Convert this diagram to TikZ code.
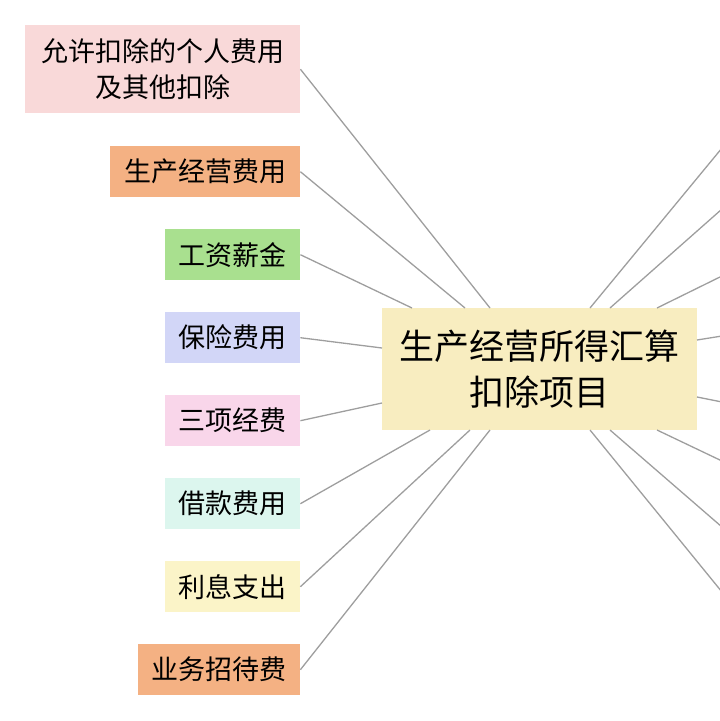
\documentclass[tikz,border=0pt]{standalone}
\usepackage{fontspec}
\setmainfont{Noto Sans CJK SC}
\begin{document}
\begin{tikzpicture}[x=1pt,y=-1pt,
  lbox/.style={anchor=north west,inner sep=0pt,align=center,font=\fontsize{27}{36}\selectfont},
  conn/.style={draw=black!38,line width=1.3pt}]
\useasboundingbox (0,0) rectangle (720,721);
\definecolor{c1}{HTML}{F9D9D9}\definecolor{c2}{HTML}{F4B183}\definecolor{c3}{HTML}{A9E08F}
\definecolor{c4}{HTML}{D2D6F7}\definecolor{c5}{HTML}{F9D6EA}\definecolor{c6}{HTML}{DCF6EE}
\definecolor{c7}{HTML}{FBF4C8}\definecolor{cc}{HTML}{F8EDC0}
\node[fill=cc,minimum width=315pt,minimum height=122pt,inner sep=0pt,align=center,font=\fontsize{35}{46}\selectfont] (c) at (539.5,369) {生产经营所得汇算\\扣除项目};
\node[fill=c1,lbox,minimum width=275pt,minimum height=88pt] (a1) at (25,25) {允许扣除的个人费用\\及其他扣除};
\node[fill=c2,lbox,minimum width=190pt,minimum height=51pt] (a2) at (110,146) {生产经营费用};
\node[fill=c3,lbox,minimum width=135pt,minimum height=51pt] (a3) at (165,229) {工资薪金};
\node[fill=c4,lbox,minimum width=135pt,minimum height=51pt] (a4) at (165,312) {保险费用};
\node[fill=c5,lbox,minimum width=135pt,minimum height=51pt] (a5) at (165,395) {三项经费};
\node[fill=c6,lbox,minimum width=135pt,minimum height=51pt] (a6) at (165,478) {借款费用};
\node[fill=c7,lbox,minimum width=135pt,minimum height=51pt] (a7) at (165,561) {利息支出};
\node[fill=c2,lbox,minimum width=162pt,minimum height=51pt] (a8) at (138,644) {业务招待费};
\draw[conn] (a1.east) -- (490,308);
\draw[conn] (a2.east) -- (465,308);
\draw[conn] (a3.east) -- (412,308);
\draw[conn] (a4.east) -- (382,348);
\draw[conn] (a5.east) -- (382,403);
\draw[conn] (a6.east) -- (430,430);
\draw[conn] (a7.east) -- (470,430);
\draw[conn] (a8.east) -- (490,430);
\coordinate (r1) at (722,148);\coordinate (r2) at (722,209);\coordinate (r3) at (722,276);
\coordinate (r4) at (722,336);\coordinate (r5) at (722,402);\coordinate (r6) at (722,461);
\coordinate (r7) at (722,527);\coordinate (r8) at (722,592);
\draw[conn] (590,308) -- (r1);
\draw[conn] (610,308) -- (r2);
\draw[conn] (657,308) -- (r3);
\draw[conn] (697,340) -- (r4);
\draw[conn] (697,397) -- (r5);
\draw[conn] (657,430) -- (r6);
\draw[conn] (610,430) -- (r7);
\draw[conn] (590,430) -- (r8);
\end{tikzpicture}
\end{document}
